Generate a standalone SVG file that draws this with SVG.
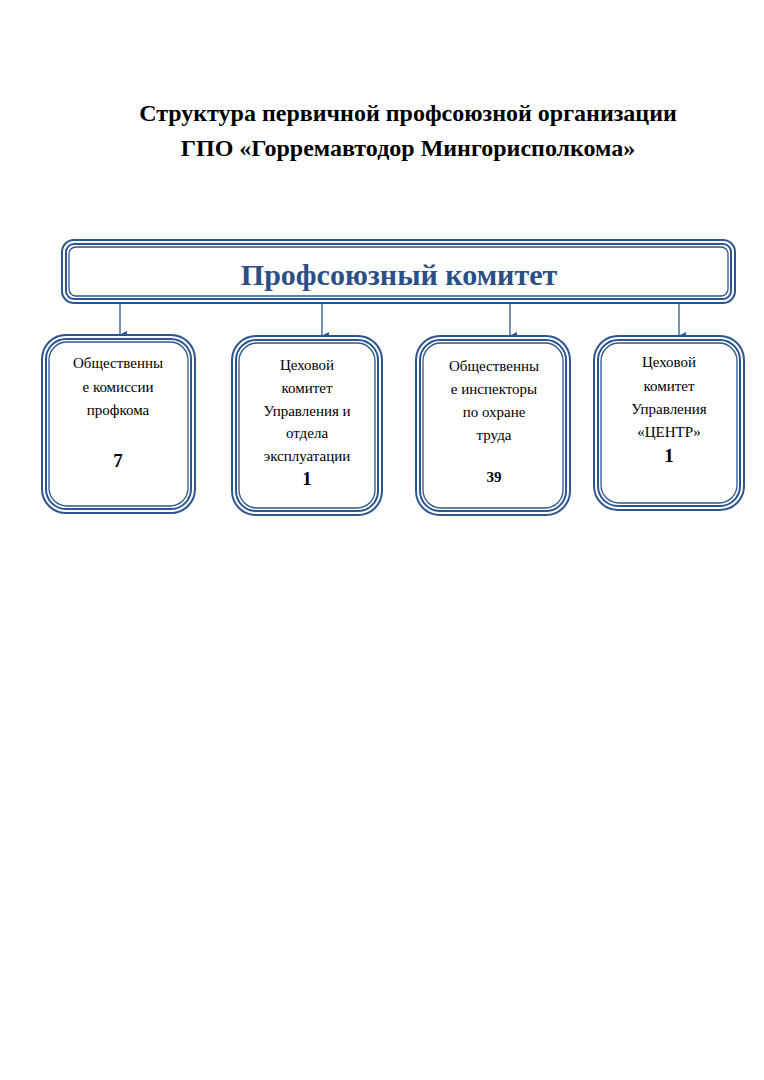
<svg xmlns="http://www.w3.org/2000/svg" width="764" height="1080" viewBox="0 0 764 1080">
<style>
.o{fill:none;stroke:#2d5590;stroke-width:6}
.w{fill:none;stroke:#fff;stroke-width:2}
.i{fill:none;stroke:#2d5590;stroke-width:1.3}
.t{font-family:"Liberation Serif",serif;font-size:15px;text-anchor:middle;fill:#000}
.n{font-family:"Liberation Serif",serif;font-weight:bold;text-anchor:middle;fill:#000}
.c{stroke:#2d5590;stroke-width:1.3}
</style>
<defs><marker id="a" markerWidth="8" markerHeight="8" refX="4" refY="7" orient="auto" markerUnits="userSpaceOnUse"><path d="M0,0 L8,0 L4,8 Z" fill="#2d5590"/></marker></defs>
<rect width="764" height="1080" fill="#fff"/>
<text x="408" y="121" class="n" font-size="24">Структура первичной профсоюзной организации</text>
<text x="408" y="156" class="n" font-size="24">ГПО «Горремавтодор Мингорисполкома»</text>
<g id="top"><rect x="64" y="242" width="669" height="59" rx="10" class="o"/><rect x="64" y="242" width="669" height="59" rx="10" class="w"/><rect x="69" y="247" width="659" height="49" rx="7" class="i"/>
<text x="399" y="285" font-family="Liberation Serif,serif" font-weight="bold" font-size="30" fill="#2a4f86" text-anchor="middle">Профсоюзный комитет</text></g>
<g id="connectors">
<line x1="120" y1="303" x2="120" y2="335" class="c" marker-end="url(#a)"/>
<line x1="322" y1="303" x2="322" y2="336" class="c" marker-end="url(#a)"/>
<line x1="510" y1="303" x2="510" y2="336" class="c" marker-end="url(#a)"/>
<line x1="679" y1="303" x2="679" y2="336" class="c" marker-end="url(#a)"/>
</g>
<g id="n1"><rect x="44" y="337" width="149" height="174" rx="22" class="o"/><rect x="44" y="337" width="149" height="174" rx="22" class="w"/><rect x="49" y="342" width="139" height="164" rx="18" class="i"/>
<text class="t" x="118" y="368">Общественны</text><text class="t" x="118" y="392">е комиссии</text><text class="t" x="118" y="415">профкома</text><text class="n" font-size="19" x="118" y="467">7</text></g>
<g id="n2"><rect x="234" y="338" width="146" height="175" rx="22" class="o"/><rect x="234" y="338" width="146" height="175" rx="22" class="w"/><rect x="239" y="343" width="136" height="165" rx="18" class="i"/>
<text class="t" x="307" y="370">Цеховой</text><text class="t" x="307" y="393">комитет</text><text class="t" x="307" y="416">Управления и</text><text class="t" x="307" y="438">отдела</text><text class="t" x="307" y="461">эксплуатации</text><text class="n" font-size="19" x="307" y="485">1</text></g>
<g id="n3"><rect x="418" y="338" width="150" height="175" rx="22" class="o"/><rect x="418" y="338" width="150" height="175" rx="22" class="w"/><rect x="423" y="343" width="140" height="165" rx="18" class="i"/>
<text class="t" x="494" y="371">Общественны</text><text class="t" x="494" y="394">е инспекторы</text><text class="t" x="494" y="417">по охране</text><text class="t" x="494" y="440">труда</text><text class="n" font-size="15" x="494" y="482">39</text></g>
<g id="n4"><rect x="596" y="338" width="146" height="170" rx="22" class="o"/><rect x="596" y="338" width="146" height="170" rx="22" class="w"/><rect x="601" y="343" width="136" height="160" rx="18" class="i"/>
<text class="t" x="669" y="367">Цеховой</text><text class="t" x="669" y="391">комитет</text><text class="t" x="669" y="414">Управления</text><text class="t" x="669" y="437">«ЦЕНТР»</text><text class="n" font-size="19" x="669" y="462">1</text></g>
</svg>
